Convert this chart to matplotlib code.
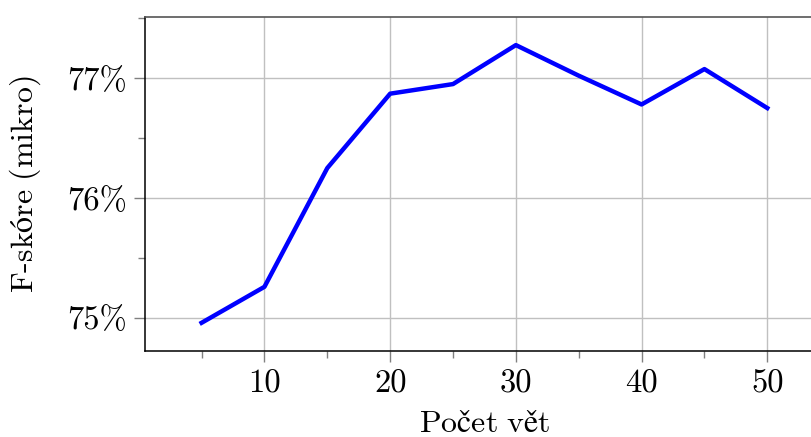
import matplotlib
matplotlib.use("Agg")
import matplotlib.pyplot as plt
from matplotlib.ticker import FixedLocator

# pocet vet vs. F-skore
pocet_vet = [5, 10, 15, 20, 25, 30, 35, 40, 45, 50]
f_skore = [74.96, 75.26, 76.25, 76.87, 76.95, 77.275, 77.02, 76.78, 77.075, 76.75]

x_ticks = [10, 20, 30, 40, 50]
x_minor = [5, 15, 25, 35, 45]
y_ticks = [75, 76, 77]
y_labels = ["75%", "76%", "77%"]
y_minor = [75.5, 76.5, 77.5]

plt.rcParams['font.family'] = ['cmr10', 'DejaVu Serif']
plt.rcParams['mathtext.fontset'] = 'cm'
plt.rcParams['axes.formatter.use_mathtext'] = True

fig = plt.figure(figsize=(8.12, 4.37), dpi=100)
ax = fig.add_axes([0.1786, 0.1968, 0.836, 0.764])

ax.plot(pocet_vet, f_skore, color=(0, 0, 1), linewidth=3.2, zorder=3)

ax.set_xlim(0.5, 54.5)
ax.set_ylim(74.725, 77.508)

ax.set_xticks(x_ticks)
ax.set_xticklabels([str(v) for v in x_ticks])
ax.xaxis.set_minor_locator(FixedLocator(x_minor))
ax.set_yticks(y_ticks)
ax.set_yticklabels(y_labels)
ax.yaxis.set_minor_locator(FixedLocator(y_minor))

ax.grid(True, which='major', color='#c0c0c0', linewidth=1.0)
ax.set_axisbelow(True)

ax.tick_params(which='major', direction='out', length=8, width=1, color='#808080',
               labelsize=23.5, pad=5)
ax.tick_params(which='minor', direction='out', length=5, width=1, color='#808080')

for s in ['left', 'bottom']:
    ax.spines[s].set_color('black')
    ax.spines[s].set_linewidth(1.1)
ax.spines['top'].set_color('#555555')
ax.spines['top'].set_linewidth(1.2)

ax.set_xlabel(r"$\mathrm{Počet\ vět}$", fontsize=23, labelpad=9)
ax.set_ylabel(r"$\mathrm{F\text{-}skóre\ (mikro)}$", fontsize=23, labelpad=17)

fig.savefig("out.png", dpi=100)
